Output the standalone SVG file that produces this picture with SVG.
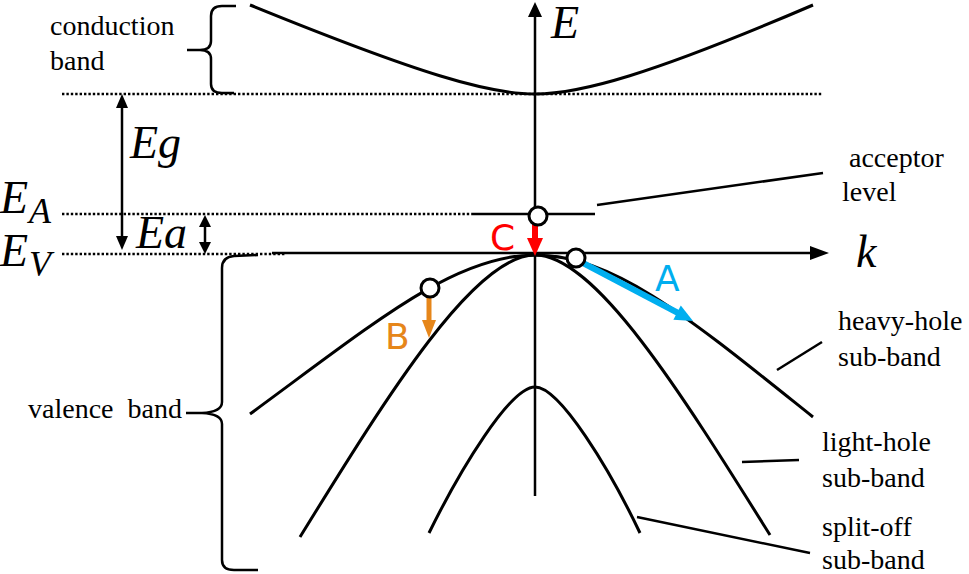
<svg xmlns="http://www.w3.org/2000/svg" width="969" height="574" viewBox="0 0 969 574">
<style>
.curve{fill:none;stroke:#000;stroke-width:3;stroke-linecap:butt}
.line{fill:none;stroke:#000;stroke-width:2.5}
.dot{fill:none;stroke:#000;stroke-width:2.4;stroke-dasharray:2.4 2}
.lbl{font-family:"Liberation Serif","Times New Roman",serif;font-size:28px;fill:#000}
.sym{font-family:"Liberation Serif","Times New Roman",serif;font-style:italic;font-size:46px;fill:#000}
.sub{font-family:"Liberation Serif","Times New Roman",serif;font-style:italic;font-size:36px;fill:#000}
.tag{font-family:"DejaVu Sans",sans-serif;font-size:36px}
.head{stroke:none;fill:#000}
.circ{fill:#fff;stroke:#000;stroke-width:3}
</style>
<rect width="969" height="574" fill="#fff"/>

<g id="levels">
<line class="dot" x1="62" y1="94" x2="822" y2="94"/>
<line class="dot" x1="62" y1="214" x2="473" y2="214"/>
<line class="dot" x1="62" y1="254" x2="286" y2="254"/>
</g>

<g id="conduction-band">
<path class="curve" d="M250,5 C422,75 489,94 535,94 C580,94 650,75 813,5"/>
</g>
<g id="heavy-hole-band">
<path class="curve" d="M250,414 C377,321 455,255 535,255 C615,255 693,321 813,417"/>
</g>
<g id="light-hole-band">
<path class="curve" d="M300,537 C390,391 475,255 535,255 C595,255 680,391 770,535"/>
</g>
<g id="split-off-band">
<path class="curve" d="M429,533 C460,470 510,387 535,387 C560,387 610,470 640,533"/>
</g>

<g id="acceptor-level">
<line class="line" x1="473" y1="214" x2="595" y2="214"/>
</g>

<g id="axes">
<line class="line" x1="535" y1="496" x2="535" y2="14"/>
<polygon class="head" points="535,2 528,17 542,17"/>
<line class="line" x1="272" y1="253" x2="812" y2="253"/>
<polygon class="head" points="829,253 810,246 810,260"/>
<text class="sym" x="551" y="38" font-size="43">E</text>
<text class="sym" x="856" y="267" font-size="48">k</text>
</g>

<g id="braces">
<path class="line" d="M236,6 L222,6 Q211,6 211,16 L211,41 Q211,50 200,50 L187,50 M200,50 Q211,50 211,59 L211,84 Q211,93 222,93 L234,93"/>
<path class="line" d="M258,255 L234,256 Q222,257 222,268 L222,402 Q222,412 202,413 L186,413 M202,413 Q222,414 222,424 L222,560 Q222,570 234,570 L258,570"/>
</g>

<g id="connectors">
<line class="line" x1="122" y1="106" x2="122" y2="238"/>
<polygon class="head" points="122,94 116,108 128,108"/>
<polygon class="head" points="122,250 116,236 128,236"/>
<line class="line" x1="205" y1="224" x2="205" y2="246"/>
<polygon class="head" points="205,215 199,227 211,227"/>
<polygon class="head" points="205,254 199,242 211,242"/>
<line class="line" x1="597" y1="205" x2="823" y2="173"/>
<line class="line" x1="777" y1="370" x2="822" y2="342"/>
<line class="line" x1="742" y1="462" x2="799" y2="460"/>
<line class="line" x1="637" y1="517" x2="810" y2="553"/>
</g>

<g id="arrow-C">
<line x1="535" y1="224" x2="535" y2="241" stroke="#ff0000" stroke-width="6"/>
<polygon points="527,238 543,238 535,256" fill="#ff0000"/>
<text class="tag" x="490" y="250" fill="#ff0000">C</text>
</g>
<g id="arrow-A">
<line x1="583" y1="263" x2="680" y2="314" stroke="#00aeef" stroke-width="6"/>
<polygon points="693,321 673.4,319.7 680.8,305.5" fill="#00aeef"/>
<text class="tag" x="655" y="291" fill="#00aeef">A</text>
</g>
<g id="arrow-B">
<line x1="429" y1="296" x2="429" y2="322" stroke="#e6861a" stroke-width="5"/>
<polygon points="422,320 436,320 429,338" fill="#e6861a"/>
<text class="tag" x="385" y="349" fill="#e6861a">B</text>
</g>

<g id="states">
<circle class="circ" cx="538" cy="216" r="9"/>
<circle class="circ" cx="576" cy="258" r="9"/>
<circle class="circ" cx="430" cy="288" r="9"/>
</g>

<g id="labels">
<text class="lbl" x="50" y="35">conduction</text>
<text class="lbl" x="50" y="70">band</text>
<text class="lbl" x="28" y="418" word-spacing="7">valence band</text>
<text class="lbl" x="849" y="167">acceptor</text>
<text class="lbl" x="842" y="201">level</text>
<text class="lbl" x="838" y="330">heavy-hole</text>
<text class="lbl" x="838" y="366">sub-band</text>
<text class="lbl" x="822" y="451">light-hole</text>
<text class="lbl" x="822" y="487">sub-band</text>
<text class="lbl" x="822" y="536">split-off</text>
<text class="lbl" x="822" y="569">sub-band</text>
<text class="sym" x="130" y="158">Eg</text>
<text class="sym" x="136" y="248">Ea</text>
<text class="sym" x="0" y="213">E</text>
<text class="sub" x="29" y="223">A</text>
<text class="sym" x="0" y="266">E</text>
<text class="sub" x="29" y="276">V</text>
</g>
</svg>
